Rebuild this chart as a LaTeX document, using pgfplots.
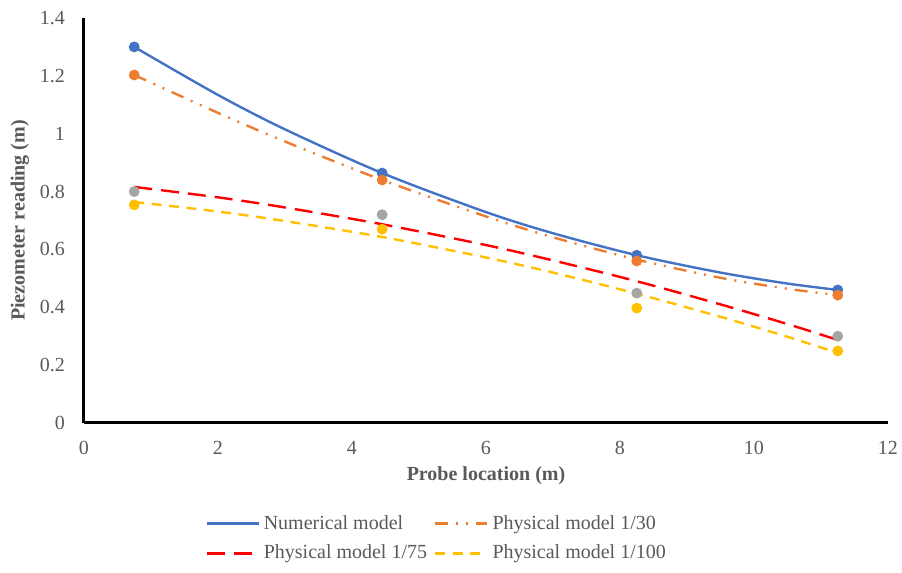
\documentclass[border=0pt]{standalone}
\usepackage{pgfplots}
\pgfplotsset{compat=1.18}
\usepackage{fontspec}
\setmainfont{Liberation Serif}
\definecolor{cblue}{HTML}{4472C4}
\definecolor{corange}{HTML}{ED7D31}
\definecolor{cgrey}{HTML}{A5A5A5}
\definecolor{cyellow}{HTML}{FFC000}
\definecolor{cred}{HTML}{FF0000}
\definecolor{tgrey}{HTML}{595959}
\begin{document}
\begin{tikzpicture}
\useasboundingbox (-42pt,-75pt) rectangle (409pt,211.5pt);
\begin{axis}[
  at={(0,0)}, anchor=south west,
  scale only axis, width=402pt, height=202.5pt,
  xmin=0, xmax=12, ymin=0, ymax=1.4,
  axis x line*=bottom, axis y line*=left,
  axis line style={black, line width=1.5pt},
  xtick={0,2,...,12}, ytick={0,0.2,0.4,0.6,0.8,1,1.2,1.4},
  major tick length=0,
  /pgf/number format/assume math mode=true,
  tick label style={font=\fontsize{10}{12}\selectfont, text=tgrey},
  xticklabel style={yshift=-5.5pt},
  yticklabel style={xshift=-6pt, /pgf/number format/fixed},
  xlabel={Probe location (m)},
  ylabel={Piezometer reading (m)},
  label style={font=\bfseries\fontsize{10}{12}\selectfont, text=tgrey},
  xlabel style={at={(axis description cs:0.5,-0.131)}, anchor=center},
  ylabel style={at={(axis description cs:-0.0796,0.5)}, anchor=center},
  legend columns=2,
  legend cell align=left,
  legend style={at={(axis description cs:0.1505,-0.2852)}, anchor=west,
    draw=none, fill=none, inner sep=0pt, row sep=2.5pt,
    font=\fontsize{10}{12}\selectfont, text=tgrey,
    /tikz/every even column/.append style={column sep=1.5pt}},
  legend image code/.code={\draw[#1] (0pt,0pt) -- (26pt,0pt);},
  clip=false,
]
% trendlines
\addplot[cblue, line width=1.2pt, smooth, no markers] coordinates {
 (0.75,1.300) (2,1.134) (3,1.015) (4.45,0.864) (6,0.729) (7,0.656) (8.25,0.580) (9.5,0.520) (10.5,0.482) (11.25,0.460)};
\addlegendentry{Numerical model}
\addplot[corange, line width=1.2pt, smooth, no markers, dash pattern=on 6.5pt off 4pt on 1pt off 4pt on 1pt off 4pt] coordinates {
 (0.75,1.203) (2,1.072) (3,0.973) (4.45,0.840) (6,0.714) (7,0.642) (8.25,0.565) (9.5,0.502) (10.5,0.464) (11.25,0.442)};
\addlegendentry{Physical model 1/30}
\addplot[cred, line width=1.2pt, smooth, no markers, dash pattern=on 9pt off 4.5pt] coordinates {
 (0.75,0.816) (2,0.780) (3,0.745) (4.45,0.687) (6,0.615) (7,0.562) (8.25,0.490) (9.5,0.410) (10.5,0.342) (11.25,0.287)};
\addlegendentry{Physical model 1/75}
\addplot[cyellow, line width=1.2pt, smooth, no markers, dash pattern=on 5pt off 3.75pt] coordinates {
 (0.75,0.764) (2,0.731) (3,0.698) (4.45,0.643) (6,0.572) (7,0.520) (8.25,0.447) (9.5,0.367) (10.5,0.298) (11.25,0.242)};
\addlegendentry{Physical model 1/100}
% data points
\addplot[only marks, mark=*, mark size=2.5pt, cblue, forget plot] coordinates {
 (0.75,1.30) (4.45,0.864) (8.25,0.58) (11.25,0.46)};
\addplot[only marks, mark=*, mark size=2.5pt, corange, forget plot] coordinates {
 (0.75,1.203) (4.45,0.84) (8.25,0.56) (11.25,0.442)};
\addplot[only marks, mark=*, mark size=2.5pt, cgrey, forget plot] coordinates {
 (0.75,0.80) (4.45,0.72) (8.25,0.449) (11.25,0.30)};
\addplot[only marks, mark=*, mark size=2.5pt, cyellow, forget plot] coordinates {
 (0.75,0.754) (4.45,0.67) (8.25,0.397) (11.25,0.249)};
\end{axis}
\end{tikzpicture}
\end{document}
